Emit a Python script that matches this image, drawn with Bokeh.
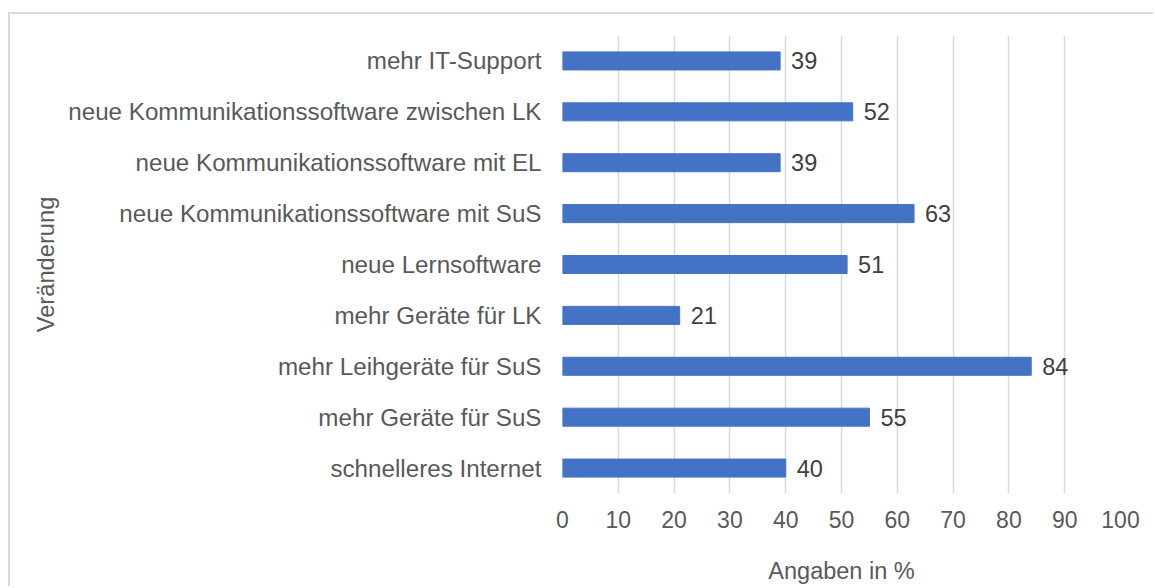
from bokeh.plotting import figure
from bokeh.models import FactorRange, Range1d, FixedTicker
from bokeh.core.properties import value
from bokeh.embed import file_html
from bokeh.resources import INLINE

categories = [
    "schnelleres Internet",
    "mehr Geräte für SuS",
    "mehr Leihgeräte für SuS",
    "mehr Geräte für LK",
    "neue Lernsoftware",
    "neue Kommunikationssoftware mit SuS",
    "neue Kommunikationssoftware mit EL",
    "neue Kommunikationssoftware zwischen LK",
    "mehr IT-Support",
]
values = [40, 55, 84, 21, 51, 63, 39, 52, 39]
value_labels = [str(v) for v in values]
x_ticks = list(range(0, 101, 10))
x_title = "Angaben in %"
y_title = "Veränderung"

FONT = "Liberation Sans"
GRAY = "#595959"

p = figure(
    width=1145, height=574,
    y_range=FactorRange(*categories),
    x_range=Range1d(0, 100),
    output_backend="svg", toolbar_location=None,
    min_border_left=552, min_border_right=35,
    min_border_top=21, min_border_bottom=95,
)
p.styles = {
    "margin-left": "8px",
    "margin-top": "12px",
    "border-left": "2px solid #d9d9d9",
    "border-top": "2px solid #d9d9d9",
}
p.outline_line_color = None
p.background_fill_color = "white"
p.border_fill_color = "white"

p.hbar(y=categories, left=0, right=values, height=0.354,
       fill_color="#4472C4", line_color="#4472C4", line_width=1)
p.text(x=values, y=categories, text=value_labels, x_offset=11,
       text_baseline="middle", text_align="left",
       text_font=value(FONT), text_font_size="23.5px", text_color="#404040")

# x axis
p.xaxis.ticker = FixedTicker(ticks=x_ticks)
p.xaxis.axis_line_color = None
p.xaxis.major_tick_line_color = None
p.xaxis.minor_tick_line_color = None
p.xaxis.major_label_text_font = FONT
p.xaxis.major_label_text_font_size = "23px"
p.xaxis.major_label_text_color = GRAY
p.xaxis.major_label_standoff = 11
p.xaxis.axis_label = x_title
p.xaxis.axis_label_text_font = FONT
p.xaxis.axis_label_text_font_size = "23.5px"
p.xaxis.axis_label_text_font_style = "normal"
p.xaxis.axis_label_text_color = GRAY
p.xaxis.axis_label_standoff = 27

# y axis
p.yaxis.axis_line_color = None
p.yaxis.major_tick_line_color = None
p.yaxis.minor_tick_line_color = None
p.yaxis.major_label_text_font = FONT
p.yaxis.major_label_text_font_size = "24.2px"
p.yaxis.major_label_text_color = GRAY
p.yaxis.major_label_standoff = 15
p.yaxis.axis_label = y_title
p.yaxis.axis_label_text_font = FONT
p.yaxis.axis_label_text_font_size = "23.7px"
p.yaxis.axis_label_text_font_style = "normal"
p.yaxis.axis_label_text_color = GRAY
p.yaxis.axis_label_standoff = 6

p.xgrid.grid_line_color = "#d9d9d9"
p.xgrid.grid_line_width = 1.5
p.ygrid.grid_line_color = None

open("out.html", "w").write(file_html(p, INLINE))
